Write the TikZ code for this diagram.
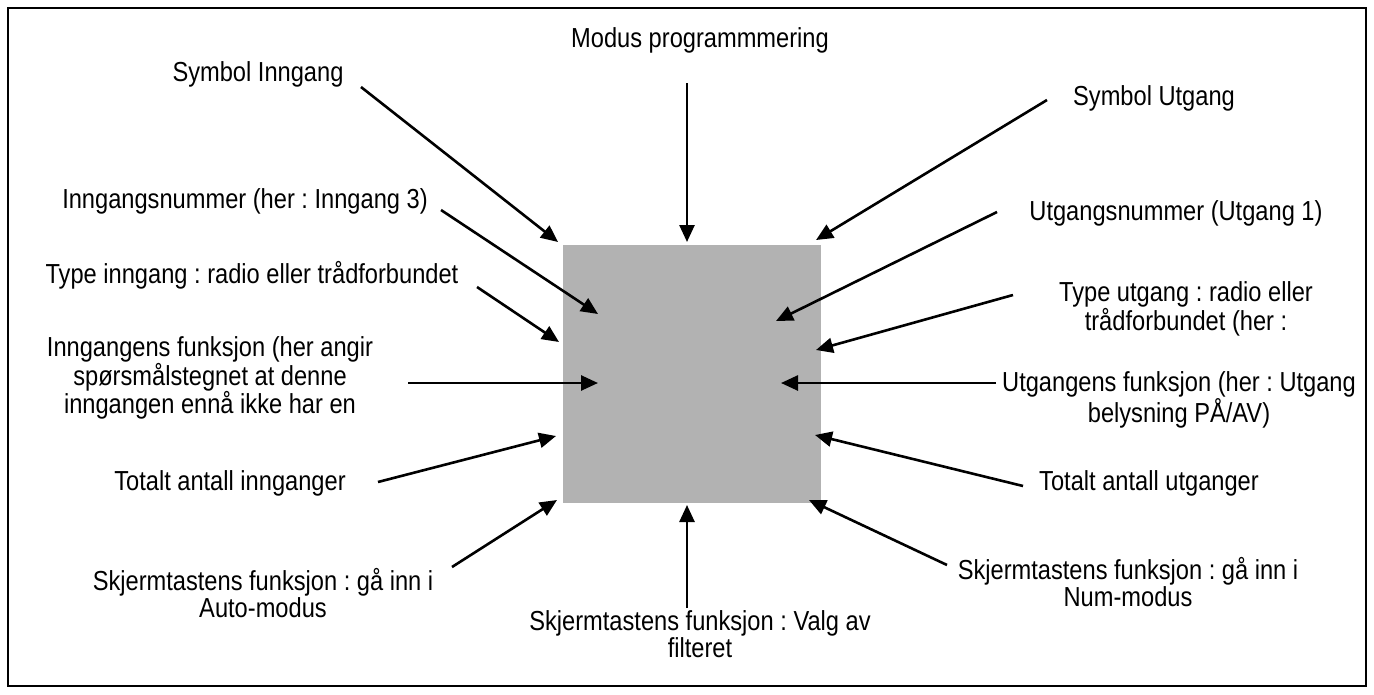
\documentclass[tikz,border=0pt]{standalone}
\usepackage{fontspec}
\setmainfont[FakeStretch=0.86]{Liberation Sans}
\usetikzlibrary{arrows.meta, positioning, calc}
\definecolor{screengray}{HTML}{B2B2B2}
\frenchspacing

\begin{document}
\begin{tikzpicture}[x=1pt, y=-1pt,
    every node/.style={font=\fontsize{27.5}{24.5}\selectfont, inner sep=0pt, align=center},
    pointer/.style={line width=2.6pt, -{Triangle[length=17pt, width=15pt]}}]
    \useasboundingbox (0,0) rectangle (1374,694);
    \draw[line width=2pt] (8,8) rectangle (1366,686);
    \node[fill=screengray, minimum width=258pt, minimum height=258pt] (screen) at (692,374) {};

    % labels
    \node (modus) at (700,40) {Modus programmmering};
    \node (symin) at (258,74) {Symbol Inngang};
    \node (symut) at (1154,98) {Symbol Utgang};
    \node (nrin) at (245,201) {Inngangsnummer (her : Inngang 3)};
    \node (nrut) at (1176,213) {Utgangsnummer (Utgang 1)};
    \node (typein) at (252,275) {Type inngang : radio eller trådforbundet};
    \node (typeut) at (1186,309) {Type utgang : radio eller\\trådforbundet (her :};
    \node (funcin) at (210,378) {Inngangens funksjon (her angir\\spørsmålstegnet at denne\\inngangen ennå ikke har en};
    \node (funcut) at (1179,400) {Utgangens funksjon (her : Utgang\\belysning PÅ/AV)};
    \node (totin) at (230,483) {Totalt antall innganger};
    \node (totut) at (1149,483) {Totalt antall utganger};
    \node (autokey) at (263,593) {Skjermtastens funksjon : gå inn i\\Auto-modus};
    \node (numkey) at (1128,582) {Skjermtastens funksjon : gå inn i\\Num-modus};
    \node (filterkey) at (700,634) {Skjermtastens funksjon : Valg av\\filteret};

    % arrow ends
    \coordinate (modusT) at (687,83);    \coordinate (modusH) at (687,242);
    \coordinate (syminT) at (361,87);    \coordinate (syminH) at (558,242);
    \coordinate (symutT) at (1047,100);  \coordinate (symutH) at (816,240);
    \coordinate (nrinT) at (441,210);    \coordinate (nrinH) at (598,314);
    \coordinate (nrutT) at (997,212);    \coordinate (nrutH) at (776,321);
    \coordinate (typeinT) at (477,287);  \coordinate (typeinH) at (559,342);
    \coordinate (typeutT) at (1013,295); \coordinate (typeutH) at (816,350);
    \coordinate (funcinT) at (408,383);  \coordinate (funcinH) at (598,383);
    \coordinate (funcutT) at (996,383);  \coordinate (funcutH) at (781,383);
    \coordinate (totinT) at (378,482);   \coordinate (totinH) at (556,436);
    \coordinate (totutT) at (1023,486);  \coordinate (totutH) at (815,435);
    \coordinate (autoT) at (452,567);    \coordinate (autoH) at (557,500);
    \coordinate (numT) at (947,565);     \coordinate (numH) at (809,500);
    \coordinate (filterT) at (687,608);  \coordinate (filterH) at (687,505);

    \draw[pointer] (modusT) -- (modusH);
    \draw[pointer] (syminT) -- (syminH);
    \draw[pointer] (symutT) -- (symutH);
    \draw[pointer] (nrinT) -- (nrinH);
    \draw[pointer] (nrutT) -- (nrutH);
    \draw[pointer] (typeinT) -- (typeinH);
    \draw[pointer] (typeutT) -- (typeutH);
    \draw[pointer] (funcinT) -- (funcinH);
    \draw[pointer] (funcutT) -- (funcutH);
    \draw[pointer] (totinT) -- (totinH);
    \draw[pointer] (totutT) -- (totutH);
    \draw[pointer] (autoT) -- (autoH);
    \draw[pointer] (numT) -- (numH);
    \draw[pointer] (filterT) -- (filterH);
\end{tikzpicture}
\end{document}
